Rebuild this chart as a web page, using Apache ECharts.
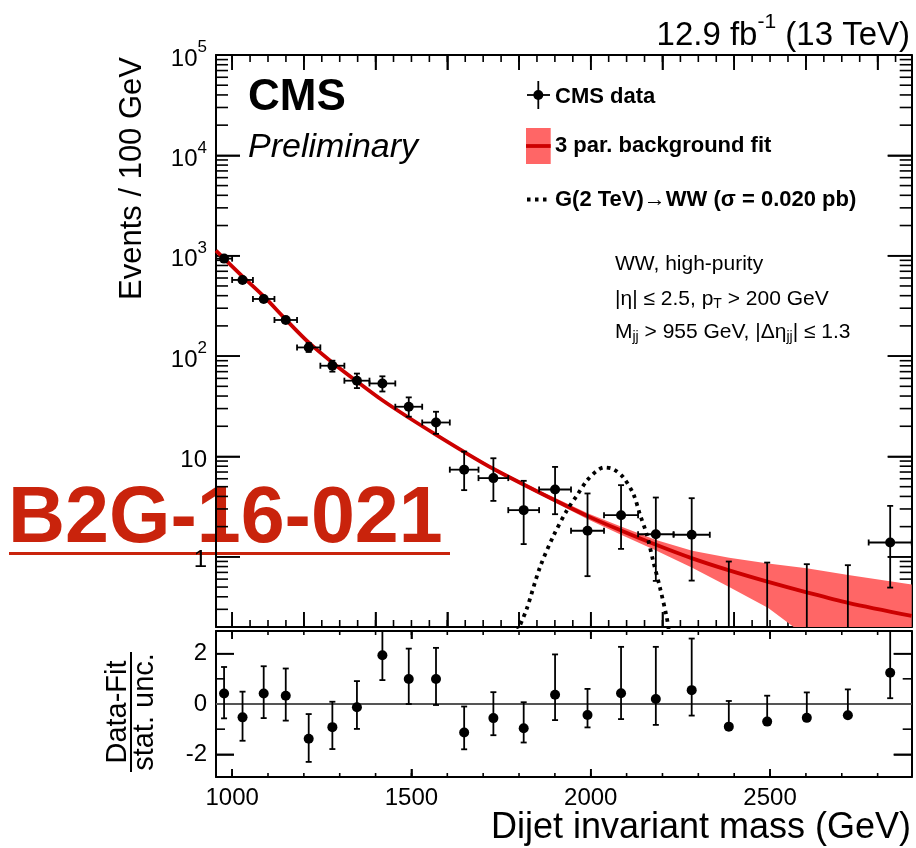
<!DOCTYPE html>
<html>
<head>
<meta charset="utf-8">
<script src="https://cdn.jsdelivr.net/npm/echarts@6/dist/echarts.min.js"></script>
<style>
  html, body { margin: 0; padding: 0; background: #fff; }
  #chart { width: 916px; height: 848px; }
</style>
</head>
<body>
<div id="chart"></div>
<script>
// dijet mass bins (GeV)
const binEdges = [955, 1000, 1058, 1118, 1181, 1246, 1313, 1383, 1455, 1530, 1607, 1687,
  1770, 1856, 1945, 2037, 2132, 2231, 2332, 2438, 2546, 2659, 2775, 2895];
// events / 100 GeV with lower and upper error
const events = [936, 574, 371, 229, 122, 80.2, 56.9, 53.4, 31.3, 21.8, 7.39, 6.09,
  2.92, 4.69, 1.82, 2.60, 1.68, 1.66, 0, 0, 0, 0, 1.39];
const eventsLo = [905, 552, 354, 216, 110, 70, 48, 44.4, 24.9, 16.8, 4.62, 3.61,
  1.34, 2.66, 0.642, 1.20, 0.576, 0.58, 0, 0, 0, 0, 0.494];
const eventsHi = [968, 597, 389, 243, 135, 90, 67, 62.9, 38.8, 27.9, 11.2, 9.6,
  5.72, 7.87, 4.28, 5.18, 3.9, 3.84, 0.898, 0.877, 0.845, 0.826, 3.22];

// background fit and its uncertainty band
const fitMass = [955, 1028, 1089, 1150, 1214, 1280, 1349, 1419, 1493, 1568, 1647, 1728,
  1858, 1993, 2086, 2182, 2283, 2386, 2495, 2602, 2718, 2895];
const fitValue = [1124, 626, 391, 231, 136, 86.0, 55.6, 36.3, 24.3, 16.5, 11.1, 7.54,
  4.35, 2.53, 1.82, 1.32, 0.966, 0.733, 0.563, 0.443, 0.348, 0.258];
const fitUp = [1150, 638, 398, 235, 138.5, 87.6, 56.7, 37.1, 24.9, 16.95, 11.45, 7.8,
  4.55, 2.70, 1.99, 1.47, 1.15, 0.98, 0.86, 0.77, 0.66, 0.53];
const fitLo = [1100, 614, 384, 226, 133.5, 84.4, 54.5, 35.5, 23.7, 16.05, 10.75, 7.28,
  4.15, 2.36, 1.65, 1.16, 0.78, 0.50, 0.31, 0.16, 0.07, 0.01];

// G(2 TeV) -> WW signal
const signalMass = [1795, 1821, 1858, 1896, 1933, 1961, 1989, 2017, 2037, 2063, 2091,
  2119, 2137, 2156, 2174, 2193, 2212, 2218];
const signalValue = [0.18, 0.30, 0.78, 1.62, 2.88, 4.06, 5.73, 7.2, 7.77, 7.47, 6.18,
  4.21, 2.66, 1.68, 0.91, 0.494, 0.248, 0.18];

// (data - fit) / stat. unc.
const pulls = [0.42, -0.53, 0.42, 0.33, -1.38, -0.92, -0.13, 1.94, 0.99, 0.99, -1.13, -0.56,
  -0.96, 0.37, -0.44, 0.43, 0.2, 0.55, -0.90, -0.70, -0.55, -0.45, 1.24];
const pullLo = [-0.57, -1.46, -0.56, -0.66, -2.30, -1.79, -0.99, 0.95, 0.0, -0.04, -1.80, -1.24,
  -1.53, -0.64, -0.93, -0.60, -0.83, -0.46, -0.90, -0.70, -0.55, -0.45, 0.23];
const pullHi = [1.47, 0.49, 1.50, 1.41, -0.40, 0.09, 0.91, 2.94, 2.20, 2.23, -0.10, 0.47,
  0.07, 1.97, 0.60, 2.27, 2.27, 2.60, 0.12, 0.33, 0.46, 0.58, 3.0];

const yTickLabels = [1, 10, 100, 1000, 10000, 100000];
const massTickLabels = [1000, 1500, 2000, 2500];
const pullTickLabels = [-2, 0, 2];

const FONT = '"Liberation Sans", Arial, Helvetica, sans-serif';
const X_MIN = 955, X_MAX = 2895;
const Y_MIN = 0.2, Y_MAX = 100000;
const P_MIN = -2.9, P_MAX = 2.9;

const binCenters = binEdges.slice(0, -1).map((e, i) => (e + binEdges[i + 1]) / 2);

// tick positions
const mainMajorX = [];
for (let m = 1000; m <= 2800; m += 200) mainMajorX.push(m);
const mainMinorX = [];
for (let m = 1000; m <= 2850; m += 50) mainMinorX.push(m);
const ratioMinorX = [];
for (let m = 1000; m <= 2800; m += 100) ratioMinorX.push(m);
const logMinor = [];
for (let e = -1; e < 5; e++) {
  for (let k = 2; k <= 9; k++) {
    const v = k * Math.pow(10, e);
    if (v >= Y_MIN && v <= Y_MAX) logMinor.push(v);
  }
}

function frameAxisTick(ticks, len) {
  return { show: true, inside: true, length: len, customValues: ticks, lineStyle: { color: '#000', width: 1.6 } };
}

function makeXAxis(grid, pos, ticks, len, labels) {
  return {
    type: 'value', gridIndex: grid, position: pos, min: X_MIN, max: X_MAX,
    axisLine: { show: true, onZero: false, lineStyle: { color: '#000', width: 2 } },
    axisTick: frameAxisTick(ticks, len),
    axisLabel: labels
      ? {
        show: true, customValues: labels, margin: 9, color: '#000', fontSize: 24, fontFamily: FONT,
        formatter: v => String(v)
      }
      : { show: false },
    splitLine: { show: false }
  };
}

function makeLogAxis(pos, labels) {
  return {
    type: 'log', logBase: 10, gridIndex: 0, position: pos, min: Y_MIN, max: Y_MAX,
    axisLine: { show: true, onZero: false, lineStyle: { color: '#000', width: 2 } },
    axisTick: frameAxisTick(yTickLabels, 24),
    axisLabel: labels ? {
      show: true, customValues: labels, margin: 9, color: '#000',
      formatter: function (v) {
        const e = Math.round(Math.log10(v));
        if (e === 0) return '{b|1}';
        if (e === 1) return '{b|10}';
        return '{b|10}{s|' + e + '}';
      },
      rich: {
        b: { fontSize: 24, fontFamily: FONT, lineHeight: 32, verticalAlign: 'bottom' },
        s: { fontSize: 17, fontFamily: FONT, lineHeight: 16, verticalAlign: 'top' }
      }
    } : { show: false },
    splitLine: { show: false }
  };
}

function makePullAxis(pos, labels) {
  return {
    type: 'value', gridIndex: 1, position: pos, min: P_MIN, max: P_MAX,
    axisLine: { show: true, onZero: false, lineStyle: { color: '#000', width: 2 } },
    axisTick: frameAxisTick(pullTickLabels, 18),
    axisLabel: labels
      ? { show: true, customValues: labels, margin: 9, color: '#000', fontSize: 24, fontFamily: FONT }
      : { show: false },
    splitLine: { show: false }
  };
}

const chart = echarts.init(document.getElementById('chart'));

function errorBars(params, api) {
  const c = api.value(0), v = api.value(1), lo = api.value(2), hi = api.value(3);
  const xl = api.value(4), xr = api.value(5);
  const style = { stroke: '#000', lineWidth: 1.8 };
  const kids = [];
  const top = api.coord([c, hi]);
  const bot = api.coord([c, lo > 0 ? lo : Y_MIN]);
  kids.push({ type: 'line', shape: { x1: top[0], y1: top[1], x2: bot[0], y2: bot[1] }, style: style });
  kids.push({ type: 'line', shape: { x1: top[0] - 3, y1: top[1], x2: top[0] + 3, y2: top[1] }, style: style });
  if (lo > 0) {
    kids.push({ type: 'line', shape: { x1: bot[0] - 3, y1: bot[1], x2: bot[0] + 3, y2: bot[1] }, style: style });
  }
  if (v > 0) {
    const l = api.coord([xl, v]), r = api.coord([xr, v]);
    kids.push({ type: 'line', shape: { x1: l[0], y1: l[1], x2: r[0], y2: r[1] }, style: style });
    kids.push({ type: 'line', shape: { x1: l[0], y1: l[1] - 3, x2: l[0], y2: l[1] + 3 }, style: style });
    kids.push({ type: 'line', shape: { x1: r[0], y1: r[1] - 3, x2: r[0], y2: r[1] + 3 }, style: style });
  }
  return { type: 'group', children: kids };
}

function pullBars(params, api) {
  const c = api.value(0), lo = api.value(1), hi = api.value(2), p = api.value(3);
  const style = { stroke: '#000', lineWidth: 1.8 };
  const top = api.coord([c, hi]);
  const bot = api.coord([c, lo]);
  const kids = [
    { type: 'line', shape: { x1: top[0], y1: top[1], x2: bot[0], y2: bot[1] }, style: style },
    { type: 'line', shape: { x1: top[0] - 3, y1: top[1], x2: top[0] + 3, y2: top[1] }, style: style }
  ];
  if (lo < p) {
    kids.push({ type: 'line', shape: { x1: bot[0] - 3, y1: bot[1], x2: bot[0] + 3, y2: bot[1] }, style: style });
  }
  return { type: 'group', children: kids };
}

const txt = (size, weight, extra) => Object.assign({
  fontSize: size, fontFamily: FONT, fontWeight: weight || 'normal', fill: '#000'
}, extra || {});

const subRich = {
  a: { fontSize: 21, fontFamily: FONT, lineHeight: 22, verticalAlign: 'top' },
  b: { fontSize: 14, fontFamily: FONT, lineHeight: 14, verticalAlign: 'bottom', padding: [12, 0, 0, 0] }
};

const labelGraphics = [
  {
    type: 'text', x: 910, y: 32,
    style: {
      text: '{a|12.9 fb}{s|-1}{a| (13 TeV)}', align: 'right', verticalAlign: 'middle',
      rich: {
        a: { fontSize: 33, fontFamily: FONT, lineHeight: 40, verticalAlign: 'bottom' },
        s: { fontSize: 21, fontFamily: FONT, lineHeight: 20, verticalAlign: 'top' }
      }
    }
  },
  { type: 'text', x: 248, y: 98, style: txt(44, 'bold', { text: 'CMS', verticalAlign: 'middle' }) },
  {
    type: 'text', x: 248, y: 148,
    style: txt(34, 'normal', { text: 'Preliminary', fontStyle: 'italic', verticalAlign: 'middle' })
  },
  // legend
  { type: 'line', shape: { x1: 538.3, y1: 81, x2: 538.3, y2: 109 }, style: { stroke: '#000', lineWidth: 1.8 } },
  { type: 'line', shape: { x1: 527, y1: 95, x2: 550, y2: 95 }, style: { stroke: '#000', lineWidth: 1.8 } },
  { type: 'circle', shape: { cx: 538.3, cy: 95, r: 5 }, style: { fill: '#000' } },
  { type: 'text', x: 555, y: 97, style: txt(22, 'bold', { text: 'CMS data', verticalAlign: 'middle' }) },
  { type: 'rect', shape: { x: 526, y: 128, width: 24.7, height: 36 }, style: { fill: '#ff6666' } },
  { type: 'line', shape: { x1: 526, y1: 146, x2: 550.7, y2: 146 }, style: { stroke: '#cc0000', lineWidth: 3.8 } },
  { type: 'text', x: 555, y: 146, style: txt(22, 'bold', { text: '3 par. background fit', verticalAlign: 'middle' }) },
  {
    type: 'line', shape: { x1: 527, y1: 199.5, x2: 551, y2: 199.5 },
    style: { stroke: '#000', lineWidth: 3.8, lineDash: [3.5, 4.5] }
  },
  {
    type: 'text', x: 555, y: 200,
    style: txt(22, 'bold', { text: 'G(2 TeV)\u2192WW (\u03c3 = 0.020 pb)', verticalAlign: 'middle' })
  },
  // selection text
  { type: 'text', x: 615, y: 264, style: txt(21, 'normal', { text: 'WW, high-purity', verticalAlign: 'middle' }) },
  {
    type: 'text', x: 615, y: 300,
    style: { text: '{a||\u03b7| \u2264 2.5, p}{b|T}{a| > 200 GeV}', verticalAlign: 'middle', rich: subRich }
  },
  {
    type: 'text', x: 615, y: 333,
    style: {
      text: '{a|M}{b|jj}{a| > 955 GeV, |\u0394\u03b7}{b|jj}{a|| \u2264 1.3}',
      verticalAlign: 'middle', rich: subRich
    }
  },
  // axis titles
  {
    type: 'text', x: 132, y: 57, rotation: Math.PI / 2,
    style: txt(31, 'normal', { text: 'Events / 100 GeV', align: 'right', verticalAlign: 'middle' })
  },
  {
    type: 'text', x: 911, y: 828,
    style: txt(36, 'normal', { text: 'Dijet invariant mass (GeV)', align: 'right', verticalAlign: 'middle' })
  },
  {
    type: 'group', x: 131, y: 712, rotation: Math.PI / 2,
    children: [
      { type: 'text', x: 0, y: -13, style: txt(29, 'normal', { text: 'Data-Fit', align: 'center', verticalAlign: 'middle' }) },
      { type: 'line', shape: { x1: -60, y1: 0, x2: 60, y2: 0 }, style: { stroke: '#000', lineWidth: 2 } },
      { type: 'text', x: 0, y: 14, style: txt(29, 'normal', { text: 'stat. unc.', align: 'center', verticalAlign: 'middle' }) }
    ]
  },
  // analysis tag
  {
    type: 'text', x: 8, y: 520,
    style: txt(79, 'bold', { text: 'B2G-16-021', fill: '#c9230c', verticalAlign: 'middle' })
  },
  { type: 'rect', shape: { x: 9, y: 552, width: 441, height: 3 }, style: { fill: '#c9230c' } }
];

chart.setOption({
  animation: false,
  grid: [
    { left: 216, top: 55, width: 695.7, height: 572 },
    { left: 216, top: 631, width: 695.7, height: 146 }
  ],
  xAxis: [
    makeXAxis(0, 'bottom', mainMajorX, 15, null),
    makeXAxis(0, 'top', mainMajorX, 15, null),
    makeXAxis(1, 'bottom', massTickLabels, 8, massTickLabels),
    makeXAxis(1, 'top', massTickLabels, 8, null)
  ],
  yAxis: [
    makeLogAxis('left', yTickLabels),
    makeLogAxis('right', null),
    makePullAxis('left', pullTickLabels),
    makePullAxis('right', null)
  ],
  series: [
    {
      type: 'custom', xAxisIndex: 0, yAxisIndex: 0, clip: true, silent: true, z: 1,
      data: [[X_MIN, 1]],
      renderItem: function (params, api) {
        const pts = [];
        fitMass.forEach((m, i) => pts.push(api.coord([m, fitUp[i]])));
        for (let i = fitMass.length - 1; i >= 0; i--) pts.push(api.coord([fitMass[i], fitLo[i]]));
        return { type: 'polygon', shape: { points: pts }, style: { fill: '#ff6666' } };
      }
    },
    {
      type: 'line', xAxisIndex: 0, yAxisIndex: 0, z: 3, smooth: 0.3, showSymbol: false,
      silent: true, clip: true,
      data: fitMass.map((m, i) => [m, fitValue[i]]),
      lineStyle: { color: '#cc0000', width: 3.8 }
    },
    {
      type: 'line', xAxisIndex: 0, yAxisIndex: 0, z: 4, smooth: 0.3, showSymbol: false,
      silent: true, clip: true,
      data: signalMass.map((m, i) => [m, signalValue[i]]),
      lineStyle: { color: '#000', width: 3.8, type: [3.5, 4.5], cap: 'butt' }
    },
    {
      type: 'custom', xAxisIndex: 0, yAxisIndex: 0, clip: true, silent: true, z: 5,
      dimensions: ['m', 'v', 'lo', 'hi', 'xl', 'xr'],
      encode: { x: 0, y: 3 },
      data: binCenters.map((c, i) => [c, events[i], eventsLo[i], eventsHi[i], binEdges[i], binEdges[i + 1]]),
      renderItem: errorBars
    },
    {
      type: 'scatter', xAxisIndex: 0, yAxisIndex: 0, z: 6, silent: true, clip: true,
      symbol: 'circle', symbolSize: 10, itemStyle: { color: '#000', opacity: 1 },
      data: binCenters.map((c, i) => [c, events[i]]).filter(d => d[1] > 0)
    },
    {
      type: 'custom', xAxisIndex: 2, yAxisIndex: 2, clip: true, silent: true, z: 5,
      dimensions: ['m', 'lo', 'hi', 'p'],
      encode: { x: 0, y: 2 },
      data: binCenters.map((c, i) => [c, pullLo[i], pullHi[i], pulls[i]]),
      renderItem: pullBars
    },
    {
      type: 'scatter', xAxisIndex: 2, yAxisIndex: 2, z: 6, silent: true, clip: true,
      symbol: 'circle', symbolSize: 10, itemStyle: { color: '#000', opacity: 1 },
      data: binCenters.map((c, i) => [c, pulls[i]]),
      markLine: {
        silent: true, symbol: 'none', label: { show: false }, z: 2,
        lineStyle: { color: '#555', width: 2.2, type: 'solid' },
        data: [{ yAxis: 0 }]
      }
    }
  ]
});

// minor (and major) inward ticks on all four sides, placed with the chart's own axes
function frameTicks(finder, xMajor, xMinor, yMajor, yMinor, yLo, yHi, len) {
  const out = [];
  const p0 = chart.convertToPixel(finder, [X_MIN, yLo]);
  const p1 = chart.convertToPixel(finder, [X_MAX, yHi]);
  const x0 = p0[0], y0 = p0[1], x1 = p1[0], y1 = p1[1];
  const add = (ax, ay, bx, by) => {
    out.push({ type: 'line', shape: { x1: ax, y1: ay, x2: bx, y2: by }, style: { stroke: '#000', lineWidth: 1.6 } });
  };
  xMajor.concat(xMinor).forEach((v, i) => {
    const l = i < xMajor.length ? len[0] : len[1];
    const px = chart.convertToPixel(finder, [v, yLo])[0];
    add(px, y0, px, y0 - l);
    add(px, y1, px, y1 + l);
  });
  yMajor.concat(yMinor).forEach((v, i) => {
    const l = i < yMajor.length ? len[2] : len[3];
    const py = chart.convertToPixel(finder, [X_MIN, v])[1];
    add(x0, py, x0 + l, py);
    add(x1, py, x1 - l, py);
  });
  return out;
}

let tickGraphics = [];
try {
  tickGraphics = tickGraphics.concat(frameTicks({ xAxisIndex: 0, yAxisIndex: 0 },
    mainMajorX, mainMinorX, yTickLabels, logMinor, Y_MIN, Y_MAX, [15, 7, 24, 12]));
} catch (e) { /* ticks from the axes remain */ }
try {
  tickGraphics = tickGraphics.concat(frameTicks({ xAxisIndex: 2, yAxisIndex: 2 },
    massTickLabels, ratioMinorX, pullTickLabels, [-1, 1], P_MIN, P_MAX, [8, 4, 18, 9]));
} catch (e) { /* ticks from the axes remain */ }

chart.setOption({ graphic: labelGraphics.concat(tickGraphics) });
</script>
</body>
</html>
